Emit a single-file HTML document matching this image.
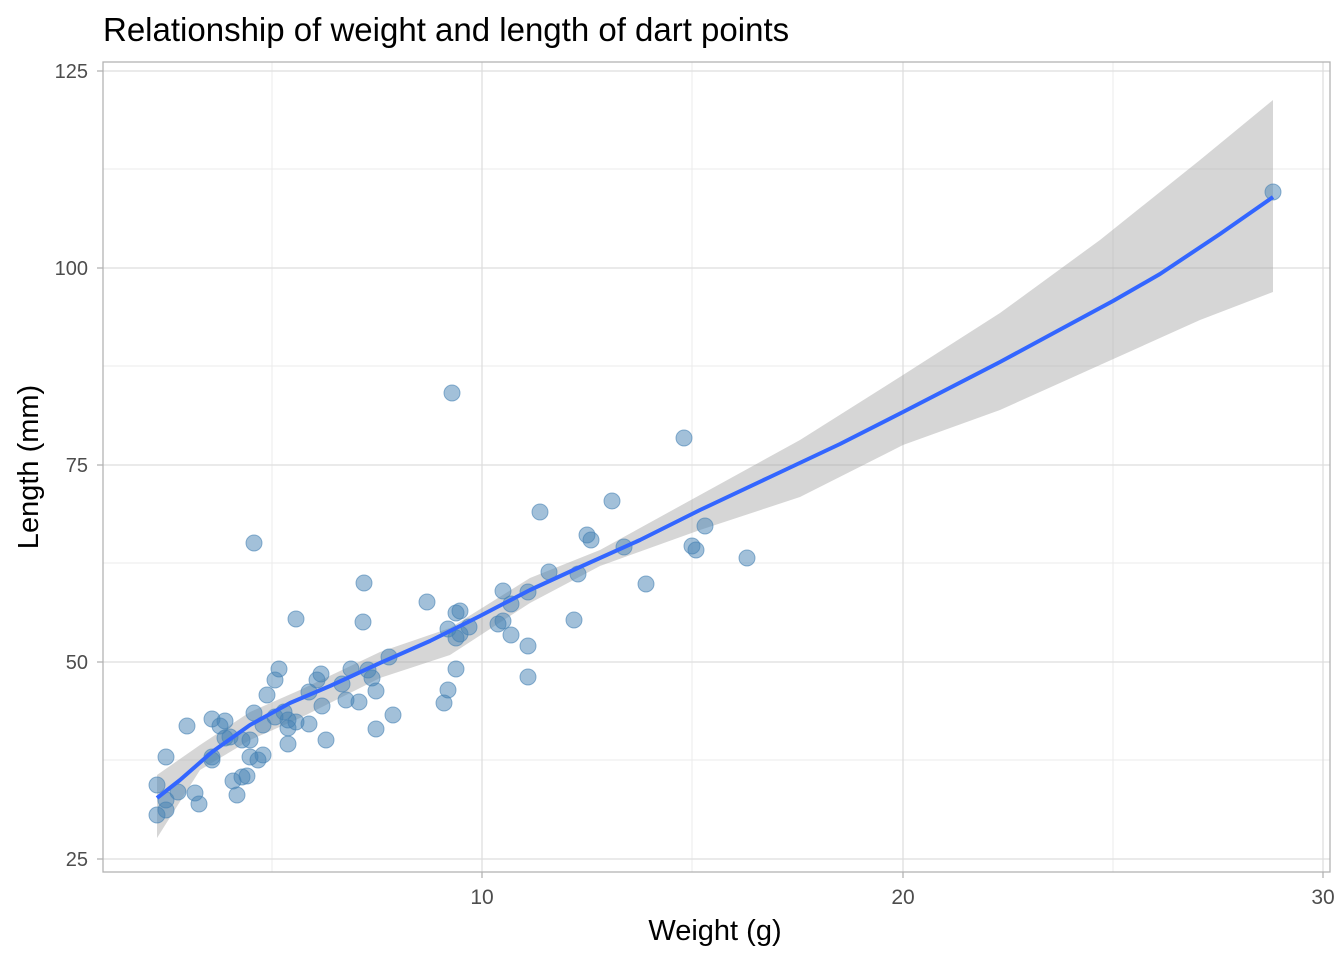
<!DOCTYPE html>
<html><head><meta charset="utf-8"><style>body{margin:0;background:#fff}svg{display:block;font-family:"Liberation Sans",Arial,sans-serif}</style></head><body>
<svg width="1344" height="960" viewBox="0 0 1344 960">
<rect width="1344" height="960" fill="#fff"/>
<text x="103" y="41" font-size="33" fill="#000">Relationship of weight and length of dart points</text>
<g stroke="#ebebeb" stroke-width="1">
<line x1="103" x2="1330" y1="169" y2="169"/><line x1="103" x2="1330" y1="366" y2="366"/><line x1="103" x2="1330" y1="563" y2="563"/><line x1="103" x2="1330" y1="760" y2="760"/>
<line x1="272" x2="272" y1="62" y2="872"/><line x1="692" x2="692" y1="62" y2="872"/><line x1="1113" x2="1113" y1="62" y2="872"/>
</g>
<g stroke="#dedede" stroke-width="1.3">
<line x1="103" x2="1330" y1="71" y2="71"/><line x1="103" x2="1330" y1="268" y2="268"/><line x1="103" x2="1330" y1="465" y2="465"/><line x1="103" x2="1330" y1="662" y2="662"/><line x1="103" x2="1330" y1="859" y2="859"/>
<line x1="482" x2="482" y1="62" y2="872"/><line x1="903" x2="903" y1="62" y2="872"/><line x1="1323" x2="1323" y1="62" y2="872"/>
</g>
<rect x="103" y="62" width="1227" height="810" fill="none" stroke="#b3b3b3" stroke-width="1.3"/>
<polygon fill="#999" fill-opacity="0.4" points="157,775 200,745 250,712 300,690 380,652 450,628 530,578 600,550 700,495 800,440 903,375 1000,313 1100,240 1200,160 1273,100 1273,292 1200,320 1100,365 1000,410 903,445 800,497 700,530 600,566 530,603 450,655 380,678 300,718 250,740 200,770 157,838"/>
<g fill="#4682b4" fill-opacity="0.5" stroke="#4682b4" stroke-opacity="0.6" stroke-width="1">
<circle cx="157" cy="785" r="8"/><circle cx="157" cy="815" r="8"/><circle cx="166" cy="757" r="8"/><circle cx="166" cy="810" r="8"/><circle cx="166" cy="800" r="8"/><circle cx="178" cy="792" r="8"/><circle cx="187" cy="726" r="8"/><circle cx="195" cy="793" r="8"/><circle cx="199" cy="804" r="8"/><circle cx="212" cy="719" r="8"/><circle cx="212" cy="757" r="8"/><circle cx="212" cy="760" r="8"/><circle cx="220" cy="726" r="8"/><circle cx="225" cy="721" r="8"/><circle cx="225" cy="738" r="8"/><circle cx="230" cy="737" r="8"/><circle cx="233" cy="781" r="8"/><circle cx="237" cy="795" r="8"/><circle cx="242" cy="740" r="8"/><circle cx="242" cy="777" r="8"/><circle cx="247" cy="776" r="8"/><circle cx="250" cy="757" r="8"/><circle cx="250" cy="740" r="8"/><circle cx="254" cy="713" r="8"/><circle cx="254" cy="543" r="8"/><circle cx="258" cy="760" r="8"/><circle cx="263" cy="755" r="8"/><circle cx="263" cy="725" r="8"/><circle cx="267" cy="695" r="8"/><circle cx="275" cy="680" r="8"/><circle cx="275" cy="717" r="8"/><circle cx="279" cy="669" r="8"/><circle cx="284" cy="712" r="8"/><circle cx="288" cy="744" r="8"/><circle cx="288" cy="728" r="8"/><circle cx="288" cy="720" r="8"/><circle cx="296" cy="619" r="8"/><circle cx="296" cy="722" r="8"/><circle cx="309" cy="724" r="8"/><circle cx="309" cy="692" r="8"/><circle cx="317" cy="680" r="8"/><circle cx="321" cy="674" r="8"/><circle cx="322" cy="706" r="8"/><circle cx="326" cy="740" r="8"/><circle cx="342" cy="684" r="8"/><circle cx="346" cy="700" r="8"/><circle cx="351" cy="669" r="8"/><circle cx="359" cy="702" r="8"/><circle cx="363" cy="622" r="8"/><circle cx="364" cy="583" r="8"/><circle cx="368" cy="670" r="8"/><circle cx="372" cy="678" r="8"/><circle cx="376" cy="691" r="8"/><circle cx="376" cy="729" r="8"/><circle cx="389" cy="657" r="8"/><circle cx="393" cy="715" r="8"/><circle cx="427" cy="602" r="8"/><circle cx="444" cy="703" r="8"/><circle cx="448" cy="629" r="8"/><circle cx="448" cy="690" r="8"/><circle cx="452" cy="393" r="8"/><circle cx="456" cy="613" r="8"/><circle cx="456" cy="669" r="8"/><circle cx="456" cy="638" r="8"/><circle cx="460" cy="611" r="8"/><circle cx="460" cy="634" r="8"/><circle cx="469" cy="627" r="8"/><circle cx="498" cy="624" r="8"/><circle cx="503" cy="591" r="8"/><circle cx="503" cy="621" r="8"/><circle cx="511" cy="604" r="8"/><circle cx="511" cy="635" r="8"/><circle cx="528" cy="592" r="8"/><circle cx="528" cy="646" r="8"/><circle cx="528" cy="677" r="8"/><circle cx="540" cy="512" r="8"/><circle cx="549" cy="572" r="8"/><circle cx="574" cy="620" r="8"/><circle cx="578" cy="574" r="8"/><circle cx="587" cy="535" r="8"/><circle cx="591" cy="540" r="8"/><circle cx="612" cy="501" r="8"/><circle cx="624" cy="547" r="8"/><circle cx="646" cy="584" r="8"/><circle cx="684" cy="438" r="8"/><circle cx="692" cy="546" r="8"/><circle cx="696" cy="550" r="8"/><circle cx="705" cy="526" r="8"/><circle cx="747" cy="558" r="8"/><circle cx="1273" cy="192" r="8"/>
</g>
<polyline fill="none" stroke="#3366ff" stroke-width="4" stroke-linejoin="round" points="157,798 180,780 212,752 250,725 290,703 330,686 380,663 430,641 480,616 530,590 580,567 640,540 700,510 770,477 840,444 903,412 1000,362 1050,335 1113,301 1160,274 1220,234 1273,197"/>
<g font-size="20" fill="#4d4d4d" text-anchor="end">
<text x="88" y="78">125</text><text x="88" y="275">100</text><text x="88" y="472">75</text><text x="88" y="669">50</text><text x="88" y="866">25</text>
</g>
<g stroke="#b3b3b3" stroke-width="1.3">
<line x1="97" x2="103" y1="71" y2="71"/><line x1="97" x2="103" y1="268" y2="268"/><line x1="97" x2="103" y1="465" y2="465"/><line x1="97" x2="103" y1="662" y2="662"/><line x1="97" x2="103" y1="859" y2="859"/>
<line x1="482" x2="482" y1="872" y2="878"/><line x1="903" x2="903" y1="872" y2="878"/><line x1="1323" x2="1323" y1="872" y2="878"/>
</g>
<g font-size="21" fill="#4d4d4d" text-anchor="middle">
<text x="482" y="904">10</text><text x="903" y="904">20</text><text x="1323" y="904">30</text>
</g>
<text x="715" y="940" font-size="29" text-anchor="middle" fill="#000">Weight (g)</text>
<text transform="translate(38,467) rotate(-90)" font-size="29" text-anchor="middle" fill="#000">Length (mm)</text>
</svg>
</body></html>
